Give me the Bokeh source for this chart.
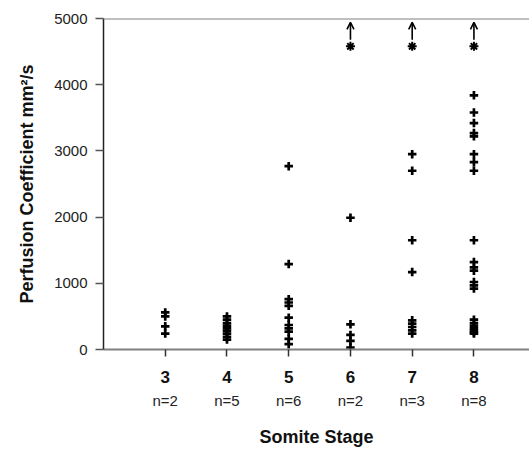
from bokeh.plotting import figure
from bokeh.models import (Range1d, FixedTicker, LinearAxis, Span, Arrow, OpenHead,
                          ColumnDataSource)
from bokeh.embed import file_html
from bokeh.resources import INLINE

# ---- data ----
stages = [3, 4, 5, 6, 7, 8]
n_counts = ["n=2", "n=5", "n=6", "n=2", "n=3", "n=8"]
values_3 = [560, 500, 350, 240]
values_4 = [500, 450, 400, 360, 320, 280, 240, 190, 150]
values_5 = [2770, 1290, 760, 710, 660, 480, 370, 320, 270, 160, 80]
values_6 = [1990, 380, 220, 130, 30]
values_7 = [2950, 2700, 1650, 1170, 440, 390, 340, 290, 240]
values_8 = [3840, 3580, 3420, 3270, 3220, 2950, 2830, 2700, 1650, 1320, 1240,
            1190, 1020, 970, 920, 450, 400, 360, 320, 290, 260, 240]
offscale_stages = [6, 7, 8]
offscale_values = [4580, 4580, 4580]
y_ticks = [0, 1000, 2000, 3000, 4000, 5000]
y_max = 5000

all_values = [values_3, values_4, values_5, values_6, values_7, values_8]
xs, ys = [], []
for s, vals in zip(stages, all_values):
    xs += [s] * len(vals)
    ys += vals

FONT = "Liberation Sans"

p = figure(width=529, height=449, output_backend="svg", toolbar_location=None,
           x_range=Range1d(2, 8.9), y_range=Range1d(0, y_max),
           min_border_left=103, min_border_right=0, min_border_top=18,
           min_border_bottom=100)
p.outline_line_color = None
p.xgrid.visible = False
p.ygrid.visible = False

p.scatter(xs, ys, marker="cross", size=8.5, line_width=2.7, color="black")
p.scatter(offscale_stages, offscale_values, marker="asterisk", size=9,
          line_width=2, color="black")

arrow_src = ColumnDataSource(dict(
    x=offscale_stages,
    y0=[v + 100 for v in offscale_values],
    y1=[y_max - 60] * len(offscale_values)))
p.add_layout(Arrow(end=OpenHead(size=7, line_width=1.6, line_color="black"),
                   x_start="x", y_start="y0", x_end="x", y_end="y1",
                   line_width=1.6, line_color="black", source=arrow_src))

p.add_layout(Span(location=y_max, dimension="width", line_color="#808080",
                  line_width=2))

# y axis
ya = p.yaxis[0]
ya.ticker = FixedTicker(ticks=y_ticks)
ya.minor_tick_line_color = None
ya.major_tick_out = 8
ya.major_tick_in = 0
ya.major_tick_line_color = "#555555"
ya.major_tick_line_width = 1.5
ya.axis_line_color = "#222222"
ya.axis_line_width = 1.5
ya.major_label_text_font = FONT
ya.major_label_text_font_size = "15px"
ya.major_label_text_color = "#222222"
ya.major_label_standoff = 8
ya.axis_label = "Perfusion Coefficient mm²/s"
ya.axis_label_text_font = FONT
ya.axis_label_text_font_style = "bold"
ya.axis_label_text_font_size = "18px"
ya.axis_label_text_color = "#111111"
ya.axis_label_standoff = 14

# x axis (stage numbers)
xa = p.xaxis[0]
xa.ticker = FixedTicker(ticks=stages)
xa.minor_tick_line_color = None
xa.major_tick_out = 7
xa.major_tick_in = 0
xa.major_tick_line_color = "#333333"
xa.major_tick_line_width = 1.5
xa.axis_line_color = "#808080"
xa.axis_line_width = 2
xa.major_label_text_font = FONT
xa.major_label_text_font_style = "bold"
xa.major_label_text_font_size = "17px"
xa.major_label_text_color = "#111111"
xa.major_label_standoff = 14

# second x axis (n counts + title)
xb = LinearAxis(ticker=FixedTicker(ticks=stages),
                major_label_overrides={s: n for s, n in zip(stages, n_counts)})
xb.axis_line_color = None
xb.major_tick_line_color = None
xb.minor_tick_line_color = None
xb.major_tick_out = 0
xb.major_tick_in = 0
xb.major_label_text_font = FONT
xb.major_label_text_font_size = "15px"
xb.major_label_text_color = "#222222"
xb.major_label_standoff = 6
xb.axis_label = "Somite Stage"
xb.axis_label_text_font = FONT
xb.axis_label_text_font_style = "bold"
xb.axis_label_text_font_size = "18px"
xb.axis_label_text_color = "#111111"
xb.axis_label_standoff = 15
p.add_layout(xb, "below")

open("out.html", "w").write(file_html(p, INLINE))
